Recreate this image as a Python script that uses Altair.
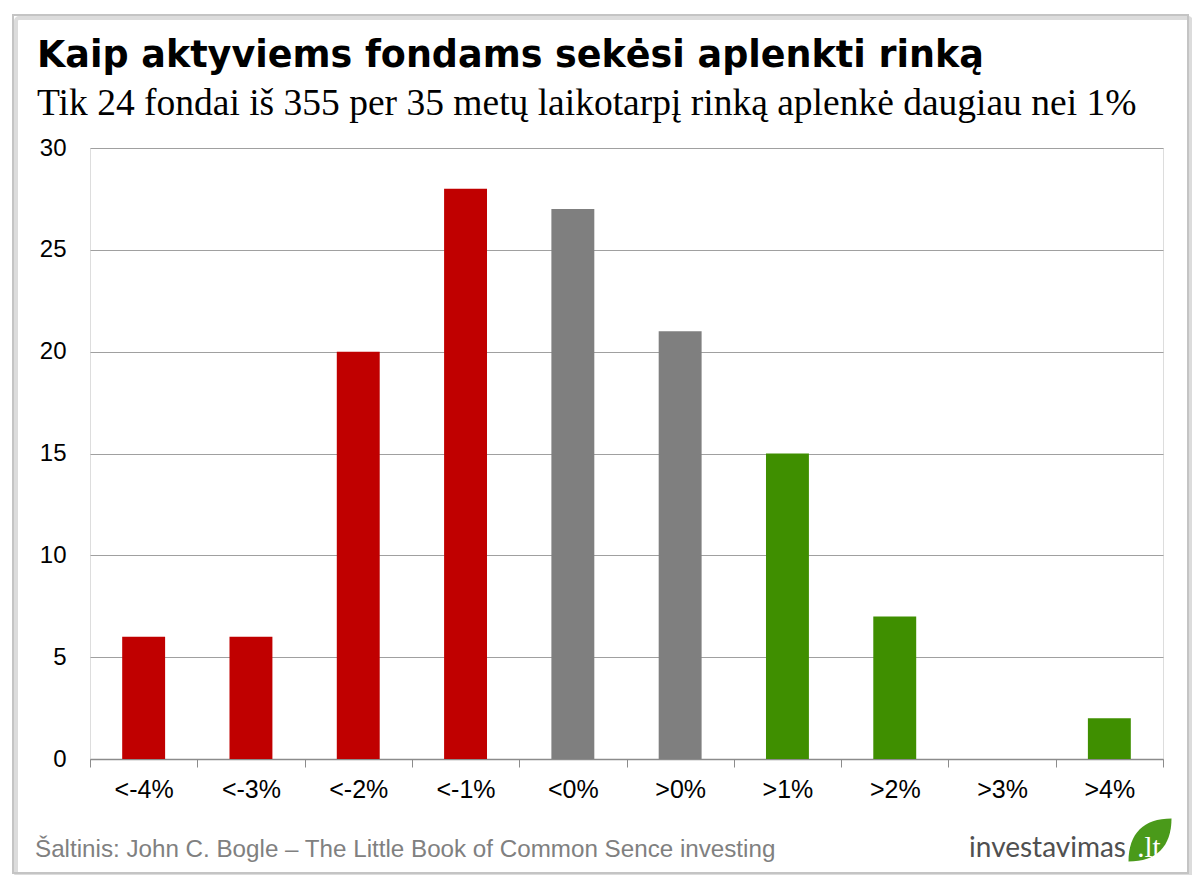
import altair as alt
import pandas as pd

categories = ["<-4%", "<-3%", "<-2%", "<-1%", "<0%", ">0%", ">1%", ">2%", ">3%", ">4%"]
funds = [6, 6, 20, 28, 27, 21, 15, 7, 0, 2]
groups = ["neg", "neg", "neg", "neg", "mid", "mid", "pos", "pos", "pos", "pos"]
group_domain = ["neg", "mid", "pos"]
group_colors = ["#C00000", "#7F7F7F", "#3F8F00"]
y_ticks = [0, 5, 10, 15, 20, 25, 30]

title_text = "Kaip aktyviems fondams sekėsi aplenkti rinką"
subtitle_text = "Tik 24 fondai iš 355 per 35 metų laikotarpį rinką aplenkė daugiau nei 1%"
source_text = "Šaltinis: John C. Bogle – The Little Book of Common Sence investing"
logo_text = "investavimas"
logo_suffix = ".lt"

df = pd.DataFrame({"cat": categories, "n": funds, "grp": groups})

W, H = 1073, 611
PL, PT, PR, PB = 82, 140, 29, 116

one = alt.Data(values=[{}])

shadow = alt.Chart(one).mark_rect(fillOpacity=0, stroke="#dcdcdc", strokeWidth=4, cornerRadius=3).encode(
    x=alt.value(-PL + 8), x2=alt.value(W + PR - 1),
    y=alt.value(-PT + 10), y2=alt.value(H + PB + 1),
)
frame = alt.Chart(one).mark_rect(fillOpacity=0, stroke="#c4c4c4", strokeWidth=2).encode(
    x=alt.value(-PL + 5), x2=alt.value(W + PR - 4),
    y=alt.value(-PT + 7), y2=alt.value(H + PB - 2),
)

bars = alt.Chart(df).mark_bar(width=alt.RelativeBandSize(0.4)).encode(
    x=alt.X("cat:N", sort=categories, title=None,
            scale=alt.Scale(paddingInner=0, paddingOuter=0),
            axis=alt.Axis(tickBand="extent", labelAngle=0, labelFontSize=25,
                          labelFont="Liberation Sans", labelColor="#000000",
                          labelPadding=10, tickSize=8, tickColor="#8c8c8c",
                          domainColor="#8c8c8c", domainWidth=1.5, grid=False)),
    y=alt.Y("n:Q", title=None,
            scale=alt.Scale(domain=[0, 30], nice=False),
            axis=alt.Axis(values=y_ticks, labelFontSize=24, labelFont="Liberation Sans",
                          labelColor="#000000", labelPadding=24, ticks=False,
                          domain=False, grid=True, gridColor="#a0a0a0", gridWidth=1.2)),
    color=alt.Color("grp:N", scale=alt.Scale(domain=group_domain, range=group_colors), legend=None),
)

source = alt.Chart(one).mark_text(align="left", baseline="middle", fontSize=24.2,
                                  font="Liberation Sans", color="#808080").encode(
    x=alt.value(-55), y=alt.value(702), text=alt.value(source_text))

logo = alt.Chart(one).mark_text(align="right", baseline="middle", fontSize=28,
                                font="Lato", color="#505050").encode(
    x=alt.value(1036), y=alt.value(701), text=alt.value(logo_text))

leaf = alt.Chart(one).mark_point(
    shape="M -1 1 C -1 -0.3 -0.3 -1 1 -1 C 1 0.3 0.3 1 -1 1 Z",
    filled=True, color="#4A9A1A", opacity=1).encode(
    x=alt.value(1060), y=alt.value(692), size=alt.value(1850))

logo_lt = alt.Chart(one).mark_text(align="center", baseline="middle", fontSize=29,
                                   font="Liberation Serif", color="white").encode(
    x=alt.value(1059), y=alt.value(700), text=alt.value(logo_suffix))

chart = alt.layer(shadow, frame, bars, source, logo, leaf, logo_lt).properties(
    width=W, height=H,
    autosize=alt.AutoSizeParams(type="none"),
    padding={"left": PL, "top": PT, "right": PR, "bottom": PB},
    title=alt.TitleParams(
        text=title_text, subtitle=subtitle_text, anchor="start", frame="group",
        dx=-53, dy=108, offset=0, font="DejaVu Sans", fontSize=36.5, fontWeight="bold",
        color="#000000", subtitleFont="Liberation Serif", subtitleFontSize=37.5,
        subtitleColor="#000000", subtitlePadding=10),
).configure_view(stroke=None).configure(background="white")

chart.save("out.html", embed_options={"renderer": "svg", "actions": False})
